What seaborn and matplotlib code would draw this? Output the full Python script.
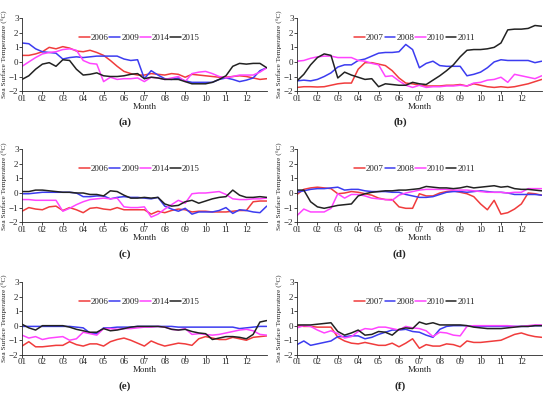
import numpy as np
import pandas as pd
import matplotlib.pyplot as plt
import seaborn as sns

# dekad positions (3 per month), month 1 .. 13
dekad = np.arange(37) / 3 + 1

years_a = ["2006", "2009", "2014", "2015"]
years_b = ["2007", "2008", "2010", "2011"]

# (a)
a_2006 = [0.45, 0.45, 0.55, 0.7, 1.0, 0.9, 1.05, 0.95, 0.75, 0.7, 0.8, 0.65, 0.45, 0.1, -0.3, -0.65, -0.8, -0.9, -0.9,
          -0.8, -0.85, -0.9, -0.8, -0.85, -1.05, -0.85, -0.9, -0.95, -1.0, -1.05, -1.05, -1.0, -0.95, -1.0, -1.1, -1.2, -1.15]
a_2009 = [1.3, 1.25, 0.9, 0.7, 0.65, 0.6, 0.2, 0.3, 0.35, 0.3, 0.35, 0.4, 0.4, 0.4, 0.4, 0.2, 0.1, 0.15, -1.15,
          -0.6, -0.9, -1.15, -1.2, -1.1, -1.3, -1.4, -1.4, -1.4, -1.4, -1.2, -1.1, -1.2, -1.35, -1.25, -1.1, -0.6, -0.4]
a_2014 = [-0.3, 0.0, 0.3, 0.55, 0.65, 0.7, 0.85, 0.9, 0.8, 0.1, -0.1, -0.15, -1.35, -1.05, -1.2, -1.15, -1.15, -1.1, -1.35,
          -1.05, -1.1, -1.2, -1.1, -1.0, -1.35, -0.8, -0.7, -0.65, -0.8, -1.0, -1.1, -1.0, -0.9, -0.9, -0.9, -0.7, -0.4]
a_2015 = [-1.2, -0.95, -0.5, -0.15, -0.05, -0.3, 0.15, 0.1, -0.5, -0.9, -0.85, -0.75, -0.95, -1.0, -1.0, -0.95, -0.85, -0.8, -1.15,
          -1.05, -1.1, -1.2, -1.2, -1.2, -1.35, -1.5, -1.5, -1.5, -1.4, -1.2, -0.95, -0.3, -0.1, -0.15, -0.1, -0.1, -0.4]

# (b)
b_2007 = [-1.75, -1.7, -1.7, -1.72, -1.7, -1.6, -1.5, -1.45, -1.45, -0.5, -0.05, -0.05, -0.15, -0.25, -0.6, -1.1, -1.45, -1.5, -1.6,
          -1.65, -1.65, -1.65, -1.6, -1.6, -1.55, -1.65, -1.5, -1.6, -1.7, -1.75, -1.7, -1.75, -1.7, -1.6, -1.5, -1.35, -1.2]
b_2008 = [-1.3, -1.25, -1.3, -1.2, -1.0, -0.75, -0.35, -0.2, -0.2, 0.1, 0.2, 0.4, 0.6, 0.65, 0.65, 0.7, 1.2, 0.85, -0.4,
          -0.1, 0.05, -0.25, -0.3, -0.3, -0.3, -0.95, -0.85, -0.7, -0.4, 0.0, 0.15, 0.1, 0.1, 0.1, 0.1, -0.05, 0.05]
b_2010 = [0.05, 0.1, 0.25, 0.35, 0.4, 0.4, 0.3, 0.3, 0.3, 0.1, 0.05, -0.1, -0.2, -1.0, -0.95, -1.3, -1.6, -1.75, -1.6,
          -1.75, -1.7, -1.7, -1.65, -1.65, -1.6, -1.65, -1.45, -1.4, -1.25, -1.2, -1.05, -1.4, -0.85, -0.95, -1.05, -1.15, -0.95]
b_2011 = [-1.3, -0.85, -0.2, 0.3, 0.55, 0.45, -1.1, -0.7, -0.9, -1.05, -1.2, -1.15, -1.7, -1.5, -1.55, -1.6, -1.6, -1.4, -1.5,
          -1.55, -1.25, -0.95, -0.6, -0.2, 0.35, 0.8, 0.85, 0.85, 0.9, 1.0, 1.3, 2.2, 2.25, 2.25, 2.3, 2.5, 2.45]

# (c)
c_2006 = [-1.25, -1.0, -1.1, -1.15, -0.95, -0.9, -1.2, -1.0, -1.15, -1.35, -1.05, -1.0, -1.1, -1.15, -1.0, -1.15, -1.15, -1.15, -1.15,
          -1.45, -1.25, -1.35, -1.2, -1.1, -1.15, -1.3, -1.25, -1.25, -1.3, -1.3, -1.3, -1.25, -1.2, -1.2, -0.6, -0.55, -0.55]
c_2009 = [-0.05, -0.05, 0.0, 0.05, 0.05, 0.05, 0.05, 0.05, 0.0, -0.25, -0.25, -0.2, -0.2, -0.4, -0.3, -0.25, -0.3, -0.3, -0.35,
          -0.4, -0.3, -0.9, -1.1, -1.25, -1.05, -1.45, -1.3, -1.3, -1.3, -1.2, -1.0, -1.4, -1.15, -1.2, -1.3, -1.35, -0.9]
c_2014 = [-0.45, -0.45, -0.5, -0.5, -0.5, -0.5, -1.25, -1.05, -0.8, -0.6, -0.45, -0.4, -0.35, -0.4, -0.35, -0.95, -1.0, -1.0, -0.95,
          -1.65, -1.45, -1.1, -0.8, -0.5, -0.7, -0.05, 0.0, 0.0, 0.05, 0.1, -0.1, -0.4, -0.45, -0.45, -0.4, -0.4, -0.35]
c_2015 = [0.1, 0.1, 0.2, 0.2, 0.15, 0.1, 0.05, 0.05, 0.0, 0.0, -0.1, -0.1, -0.2, 0.15, 0.1, -0.15, -0.35, -0.35, -0.3,
          -0.35, -0.3, -0.75, -0.9, -0.85, -0.6, -0.5, -0.7, -0.55, -0.4, -0.3, -0.25, 0.2, -0.15, -0.3, -0.3, -0.25, -0.3]

# (d)
d_2007 = [-0.1, 0.25, 0.35, 0.4, 0.35, 0.3, -0.05, 0.0, 0.1, 0.05, -0.05, -0.15, -0.35, -0.45, -0.45, -0.95, -1.05, -1.05, -0.05,
          -0.2, -0.2, 0.0, 0.1, 0.15, 0.05, -0.05, -0.25, -0.75, -1.15, -0.5, -1.45, -1.35, -1.1, -0.75, 0.0, -0.05, -0.15]
d_2008 = [0.05, 0.15, 0.25, 0.3, 0.3, 0.35, 0.4, 0.2, 0.25, 0.25, 0.15, 0.1, 0.1, 0.1, 0.05, 0.05, -0.1, -0.2, -0.3,
          -0.3, -0.25, -0.1, 0.05, 0.1, 0.1, 0.05, 0.1, 0.15, 0.1, 0.05, 0.05, 0.0, -0.1, -0.1, -0.1, -0.1, -0.15]
d_2010 = [-1.55, -1.1, -1.3, -1.3, -1.3, -1.05, -0.05, -0.35, -0.1, -0.1, -0.2, -0.35, -0.4, -0.45, -0.5, -0.15, 0.0, 0.1, 0.2,
          0.25, 0.25, 0.25, 0.25, 0.2, 0.2, 0.2, 0.15, 0.1, 0.05, 0.05, 0.05, 0.0, 0.05, 0.05, 0.3, 0.3, 0.3]
d_2011 = [0.2, 0.2, -0.6, -0.95, -1.05, -0.95, -0.85, -0.8, -0.75, -0.2, -0.05, 0.05, 0.1, 0.15, 0.15, 0.2, 0.2, 0.25, 0.3,
          0.45, 0.4, 0.35, 0.35, 0.3, 0.35, 0.45, 0.35, 0.4, 0.45, 0.5, 0.4, 0.45, 0.3, 0.25, 0.25, 0.2, 0.15]

# (e)
e_2006 = [-1.4, -1.1, -1.45, -1.45, -1.4, -1.35, -1.35, -1.1, -1.3, -1.4, -1.25, -1.25, -1.4, -1.1, -0.95, -0.85, -1.0, -1.2, -1.4,
          -1.05, -1.25, -1.4, -1.3, -1.2, -1.25, -1.35, -0.9, -0.75, -0.85, -0.95, -0.95, -0.8, -0.9, -1.0, -0.8, -0.75, -0.7]
e_2009 = [-0.05, -0.05, -0.05, -0.05, -0.05, -0.05, -0.05, -0.05, -0.1, -0.15, -0.5, -0.55, -0.15, -0.15, -0.1, -0.1, -0.1, -0.05, -0.05,
          -0.05, -0.05, -0.05, -0.05, -0.1, -0.1, -0.1, -0.1, -0.1, -0.1, -0.1, -0.1, -0.1, -0.2, -0.15, -0.1, -0.05, -0.05]
e_2014 = [-0.65, -0.85, -0.75, -0.95, -0.85, -0.8, -0.75, -1.0, -0.9, -0.45, -0.55, -0.65, -0.2, -0.2, -0.25, -0.2, -0.2, -0.15, -0.1,
          -0.1, -0.05, -0.1, -0.25, -0.3, -0.2, -0.6, -0.55, -0.6, -0.65, -0.6, -0.5, -0.4, -0.3, -0.25, -0.35, -0.6, -0.65]
e_2015 = [0.1, -0.15, -0.3, 0.0, 0.0, 0.0, 0.0, -0.1, -0.25, -0.35, -0.45, -0.45, -0.2, -0.35, -0.3, -0.2, -0.1, -0.05, -0.05,
          -0.05, -0.05, -0.1, -0.25, -0.3, -0.25, -0.4, -0.5, -0.55, -0.95, -0.85, -0.75, -0.75, -0.8, -0.9, -0.6, 0.25, 0.35]

# (f)
f_2007 = [0.0, -0.05, -0.05, -0.1, -0.1, -0.1, -0.8, -1.05, -1.2, -1.25, -1.15, -1.25, -1.35, -1.35, -1.2, -1.45, -1.2, -0.9, -1.55,
          -1.3, -1.4, -1.4, -1.25, -1.3, -1.45, -1.05, -1.15, -1.15, -1.1, -1.05, -1.0, -0.8, -0.6, -0.5, -0.65, -0.75, -0.8]
f_2008 = [-1.3, -1.05, -1.35, -1.25, -1.15, -1.05, -0.75, -0.75, -0.7, -0.7, -0.9, -0.8, -0.6, -0.45, -0.3, -0.3, -0.25, -0.4, -0.45,
          -0.65, -0.8, -0.25, -0.05, 0.0, 0.0, 0.0, -0.05, -0.05, -0.05, -0.05, -0.05, -0.05, -0.05, -0.05, -0.05, 0.0, 0.0]
f_2010 = [-0.15, 0.0, -0.05, -0.3, -0.5, -0.35, -0.55, -0.85, -0.75, -0.4, -0.2, -0.25, -0.1, -0.1, -0.2, -0.3, -0.05, -0.15, -0.2,
          -0.35, -0.75, -0.45, -0.5, -0.65, -0.7, -0.05, 0.0, 0.0, 0.0, 0.0, 0.0, 0.0, -0.05, -0.05, 0.0, 0.05, 0.05]
f_2011 = [0.05, 0.05, 0.05, 0.1, 0.15, 0.2, -0.4, -0.65, -0.5, -0.3, -0.65, -0.6, -0.4, -0.45, -0.65, -0.25, -0.15, -0.2, 0.25,
          0.1, 0.2, 0.05, 0.05, 0.05, 0.05, 0.0, -0.1, -0.15, -0.2, -0.2, -0.2, -0.15, -0.1, -0.05, -0.05, 0.0, 0.0]

month_labels = ["01", "02", "03", "04", "05", "06", "07", "08", "09", "10", "11", "12"]
colors = ["#f03c3c", "#3c3cf0", "#ff44ff", "#222222"]

panels = [
    ("(a)", years_a, [a_2006, a_2009, a_2014, a_2015]),
    ("(b)", years_b, [b_2007, b_2008, b_2010, b_2011]),
    ("(c)", years_a, [c_2006, c_2009, c_2014, c_2015]),
    ("(d)", years_b, [d_2007, d_2008, d_2010, d_2011]),
    ("(e)", years_a, [e_2006, e_2009, e_2014, e_2015]),
    ("(f)", years_b, [f_2007, f_2008, f_2010, f_2011]),
]

sns.set_theme(style="ticks")
plt.rcParams['font.family'] = ['Liberation Serif', 'DejaVu Serif']

fig = plt.figure(figsize=(5.5, 3.96), dpi=100)
lefts = [0.04, 0.54]
bottoms = [0.770, 0.439, 0.104]
label_x = [0.227, 0.727]
label_y = [0.679, 0.346, 0.013]

for k, (tag, years, series) in enumerate(panels):
    r, c = k // 2, k % 2
    ax = fig.add_axes([lefts[c], bottoms[r], 0.445, 0.184])
    df = pd.DataFrame({
        "Month": np.tile(dekad, len(years)),
        "SST": np.concatenate(series),
        "Year": np.repeat(years, len(dekad)),
    })
    sns.lineplot(data=df, x="Month", y="SST", hue="Year", palette=colors, linewidth=1.1, ax=ax)
    ax.set_xlim(1, 13)
    ax.set_ylim(-2, 3)
    ax.set_xticks(range(1, 13))
    ax.set_xticklabels(month_labels)
    ax.set_yticks(range(-2, 4))
    ax.tick_params(labelsize=6.5, length=2, width=0.6, pad=0.5)
    ax.set_xlabel("Month", fontsize=6.5, labelpad=0)
    ax.set_ylabel("Sea Surface Temperature (\u00b0C)", fontsize=5.2, labelpad=1)
    for s in ["left", "bottom"]:
        ax.spines[s].set_linewidth(0.6)
    sns.despine(ax=ax)
    ax.legend(ncol=4, loc="upper center", bbox_to_anchor=(0.48, 0.9), frameon=False,
              fontsize=6.5, handlelength=1.2, handletextpad=0.1, columnspacing=0.1)
    fig.text(label_x[c], label_y[r], tag, ha="center", va="bottom", fontsize=8, fontweight="bold")

fig.savefig("out.png", dpi=100)
